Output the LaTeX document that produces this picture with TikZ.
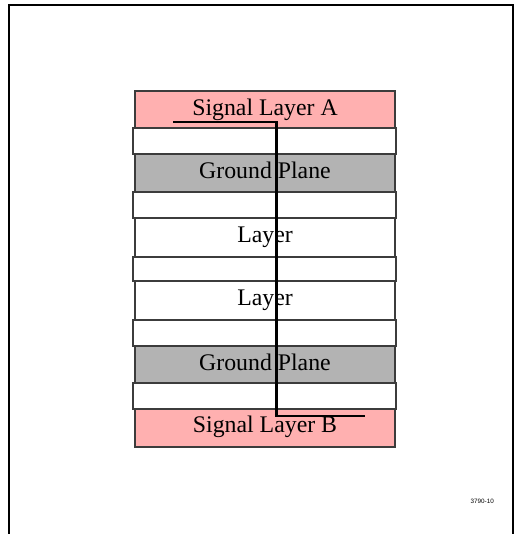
\documentclass[tikz,border=0pt]{standalone}
\usepackage{fontspec}
\setmainfont{Liberation Serif}
\newfontfamily\labelsans{Liberation Sans}
\usetikzlibrary{calc}
\definecolor{sigpink}{RGB}{255,176,176}
\definecolor{gndgray}{RGB}{179,179,179}
\definecolor{edgegray}{RGB}{60,60,60}
\tikzset{
  layerbox/.style={draw=edgegray, line width=1.1pt, inner sep=0pt, outer sep=0pt,
    minimum width=260pt, anchor=center},
  thinbox/.style={draw=edgegray, line width=1.1pt, inner sep=0pt, outer sep=0pt,
    minimum width=263pt, fill=white, anchor=center},
  lbl/.style={inner sep=0pt, anchor=base, font=\fontsize{23.8}{28}\selectfont},
  via/.style={line width=2.4pt, black},
  frameline/.style={line width=2pt, black}
}
\begin{document}
\begin{tikzpicture}[x=1pt,y=-1pt]
\useasboundingbox (0,0) rectangle (521,534);
% frame
\coordinate (f1) at (9,534);
\coordinate (f2) at (9,5);
\coordinate (f3) at (512.5,5);
\coordinate (f4) at (512.5,534);
\draw[frameline] (f1) -- (f2) -- (f3) -- (f4);
% thin dielectric layers
\node[thinbox, minimum height=26pt] (t1) at (264.5,141) {};
\node[thinbox, minimum height=26pt] (t2) at (264.5,205) {};
\node[thinbox, minimum height=24pt] (t3) at (264.5,269) {};
\node[thinbox, minimum height=26pt] (t4) at (264.5,333) {};
\node[thinbox, minimum height=26pt] (t5) at (264.5,396) {};
% thick layers
\node[layerbox, fill=sigpink, minimum height=37pt] (sigA) at (265,109.5) {};
\node[layerbox, fill=gndgray, minimum height=38pt] (gnd1) at (265,173) {};
\node[layerbox, fill=white, minimum height=39pt] (lay1) at (265,237.5) {};
\node[layerbox, fill=white, minimum height=39pt] (lay2) at (265,300.5) {};
\node[layerbox, fill=gndgray, minimum height=37pt] (gnd2) at (265,364.5) {};
\node[layerbox, fill=sigpink, minimum height=38pt] (sigB) at (265,428) {};
% labels
\node[lbl] (lA) at ($(sigA.center)+(0,5.6)$) {Signal Layer A};
\node[lbl] (lG1) at ($(gnd1.center)+(0,5.8)$) {Ground Plane};
\node[lbl] (lL1) at ($(lay1.center)+(0,5.2)$) {Layer};
\node[lbl] (lL2) at ($(lay2.center)+(0,5.0)$) {Layer};
\node[lbl] (lG2) at ($(gnd2.center)+(0,5.5)$) {Ground Plane};
\node[lbl] (lB) at ($(sigB.center)+(0,4.8)$) {Signal Layer B};
% via / trace
\coordinate (v1) at (173,121.8);
\coordinate (v2) at (276.5,121.8);
\coordinate (v3) at (276.5,415.7);
\coordinate (v4) at (365,415.7);
\draw[via] (v1) -- (v2) -- (v3) -- (v4);
% figure number
\node[inner sep=0pt, anchor=base east, font=\labelsans\fontsize{6.3}{7}\selectfont] (fig) at (494,503.5) {3790-10};
\end{tikzpicture}
\end{document}
